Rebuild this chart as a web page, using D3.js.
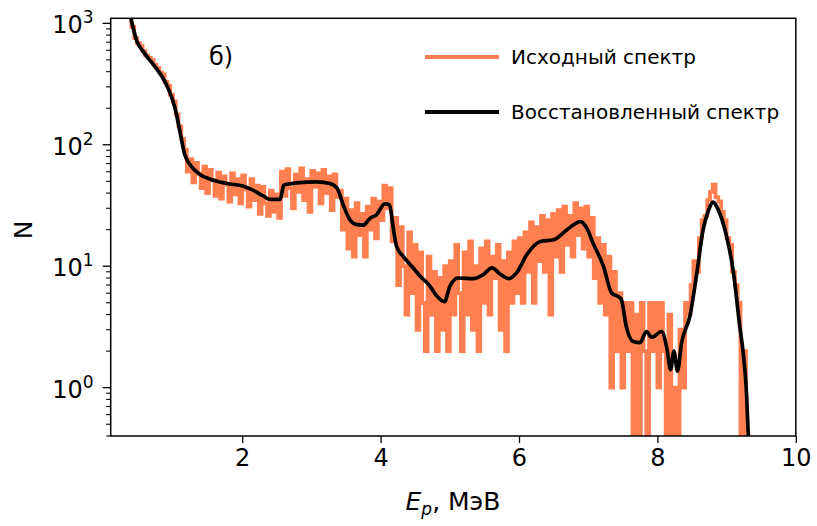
<!DOCTYPE html>
<html>
<head>
<meta charset="utf-8">
<script src="https://cdn.jsdelivr.net/npm/d3@7"></script>
<style>
  html, body { margin: 0; padding: 0; background: #fff; }
  svg { display: block; font-family: "DejaVu Sans", sans-serif; }
</style>
</head>
<body>
<svg id="chart" width="817" height="526"></svg>
<script>
// Measured proton spectrum: bins of 0.04 MeV starting at 0.30 MeV (counts per bin)
const rawStart = 0.30;
const rawStep = 0.04;
const rawCounts = [
  1720, 1390, 1210, 935, 760, 690, 650, 590, 545, 520,
  498, 455, 430, 395, 380, 330, 305, 258, 228, 178,
  142, 112, 91, 60, 76, 49, 71, 58, 44, 66,
  40, 62, 51, 38, 59, 36, 55, 47, 34, 58,
  39, 52, 33, 56, 43, 31, 52, 35, 46, 27,
  45, 33, 26, 42, 28, 39, 25, 60, 38, 63,
  44, 30, 57, 41, 64, 35, 52, 28, 61, 45,
  58, 33, 62, 40, 55, 29, 57, 37, 42, 20,
  36, 14, 29, 12, 33, 18, 27, 12, 31, 20,
  36, 17, 34, 24, 46, 30, 44, 16, 25, 7,
  21, 10, 4, 19, 6, 15, 3, 13, 5, 2,
  12, 4, 9, 2, 8, 3, 10, 2, 11, 4,
  15, 6, 2, 13, 4, 16, 3, 10, 2, 14,
  5, 16, 4, 12, 8, 15, 3, 11, 2, 13,
  5, 16, 6, 17, 5, 19, 9, 23, 5, 21,
  11, 26, 9, 24, 4, 27, 12, 29, 9, 31,
  15, 26, 12, 33, 18, 30, 14, 31, 12, 25,
  8, 17, 5, 15, 4, 12, 1, 9, 2, 6,
  1, 5, 2, 5, 0, 4, 0, 5, 2, 0,
  5, 2, 5, 1, 5, 2, 0, 4, 0, 1,
  0, 3, 1, 5, 4, 7, 11, 9, 17, 24,
  26, 35, 41, 47, 37, 34, 28, 24, 17, 15,
  9, 7, 5, 0, 2, 0, 0
];

// Reconstructed (unfolded) spectrum
const recEnergy = [
  0.33, 0.39, 0.48, 0.57, 0.72, 0.84, 0.93, 1.03, 1.10, 1.17,
  1.25, 1.39, 1.54, 1.78, 2.02, 2.14, 2.31, 2.40, 2.55, 2.58,
  2.60, 2.79, 3.08, 3.27, 3.37, 3.46, 3.56, 3.66, 3.75, 3.85,
  3.94, 4.06, 4.13, 4.18, 4.23, 4.33, 4.45, 4.57, 4.71, 4.79,
  4.93, 4.97, 5.00, 5.12, 5.34, 5.48, 5.61, 5.73, 5.85, 5.97,
  6.11, 6.31, 6.50, 6.69, 6.89, 6.98, 7.07, 7.22, 7.34, 7.44,
  7.48, 7.55, 7.65, 7.75, 7.84, 7.92, 8.06, 8.14, 8.19, 8.24,
  8.29, 8.35, 8.47, 8.57, 8.66, 8.74, 8.80, 8.90, 9.00, 9.10,
  9.19, 9.24, 9.29, 9.31, 9.33
];
const recCounts = [
  1480, 1100, 706, 585, 454, 365, 292, 200, 129, 83,
  68, 57, 52, 48, 45.5, 42.7, 37.7, 35.5, 35.5, 42,
  46.5, 48.5, 49.5, 48, 44, 32, 24, 22, 21.8, 24.9,
  26.5, 32.6, 32, 21.2, 14.6, 12, 10, 8.3, 6.9, 5.9,
  5.1, 6.0, 6.8, 8.0, 7.9, 8.5, 9.7, 8.6, 7.9, 8.9,
  12.4, 16, 16.5, 19.9, 23.3, 20.6, 15.5, 10, 6.0, 5.6,
  5.3, 3.2, 2.4, 2.35, 2.9, 2.6, 2.9, 2.06, 1.41, 2.0,
  1.37, 2.34, 3.9, 8.8, 19.9, 29, 33.7, 27.3, 17.6, 8.8,
  3.2, 1.94, 0.85, 0.45, 0.3
];

const xTicks = [2, 4, 6, 8, 10];
const yTickExponents = [0, 1, 2, 3];
const seriesNames = ["Исходный спектр", "Восстановленный спектр"];
const panelLabel = "б)";

const svg = d3.select("#chart");
const plot = { left: 110.7, right: 795.8, top: 18.3, bottom: 436 };

const x = d3.scaleLinear().domain([0.1, 10]).range([plot.left, plot.right]);
const y = d3.scaleLog().domain([0.4, 1100]).range([plot.bottom, plot.top]);

const orange = "#FF7F50";

svg.append("defs").append("clipPath").attr("id", "plot-clip")
  .append("rect")
  .attr("x", plot.left).attr("y", plot.top)
  .attr("width", plot.right - plot.left).attr("height", plot.bottom - plot.top);

const floorVal = 0.05; // empty bins fall below the visible range
const rawData = rawCounts.map((c, i) => [rawStart + i * rawStep, Math.max(c, floorVal)]);
const recData = recEnergy.map((e, i) => [e, recCounts[i]]);

const lines = svg.append("g").attr("clip-path", "url(#plot-clip)");

lines.append("path")
  .datum(rawData)
  .attr("fill", "none")
  .attr("stroke", orange)
  .attr("stroke-width", 3.8)
  .attr("stroke-linejoin", "miter")
  .attr("d", d3.line().curve(d3.curveStep).x(d => x(d[0])).y(d => y(d[1])));

lines.append("path")
  .datum(recData)
  .attr("fill", "none")
  .attr("stroke", "#000")
  .attr("stroke-width", 3.7)
  .attr("stroke-linejoin", "round")
  .attr("d", d3.line().curve(d3.curveMonotoneX).x(d => x(d[0])).y(d => y(d[1])));

// Frame
svg.append("rect")
  .attr("x", plot.left).attr("y", plot.top)
  .attr("width", plot.right - plot.left).attr("height", plot.bottom - plot.top)
  .attr("fill", "none").attr("stroke", "#000").attr("stroke-width", 1.5);

// X axis
const xAxis = d3.axisBottom(x).tickValues(xTicks).tickSize(7).tickPadding(6)
  .tickFormat(d3.format("d"));
const gx = svg.append("g").attr("transform", `translate(0,${plot.bottom})`).call(xAxis);
gx.select(".domain").remove();
gx.selectAll(".tick line").attr("stroke", "#000").attr("stroke-width", 1.3);
gx.selectAll(".tick text").attr("font-family", "DejaVu Sans").attr("font-size", 24).attr("fill", "#000");

// Y axis: major and minor ticks
const gy = svg.append("g");
const minor = [];
for (let k = -1; k <= 3; k++) {
  for (let m = 2; m <= 9; m++) {
    const v = m * Math.pow(10, k);
    if (v >= 0.4 && v <= 1100) minor.push(v);
  }
}
gy.selectAll("line.minor").data(minor).enter().append("line")
  .attr("x1", plot.left - 4.5).attr("x2", plot.left)
  .attr("y1", d => y(d)).attr("y2", d => y(d))
  .attr("stroke", "#000").attr("stroke-width", 1.1);
gy.selectAll("line.major").data(yTickExponents).enter().append("line")
  .attr("x1", plot.left - 8).attr("x2", plot.left)
  .attr("y1", d => y(Math.pow(10, d))).attr("y2", d => y(Math.pow(10, d)))
  .attr("stroke", "#000").attr("stroke-width", 1.3);
const ylab = gy.selectAll("text.ylab").data(yTickExponents).enter().append("text")
  .attr("x", plot.left - 17)
  .attr("y", d => y(Math.pow(10, d)) + 10)
  .attr("text-anchor", "end")
  .attr("font-size", 24)
  .attr("fill", "#000");
ylab.append("tspan").text("10");
ylab.append("tspan").attr("dy", -10).attr("font-size", 17).text(d => d);

// Axis titles
const xt = svg.append("text")
  .attr("x", 453).attr("y", 510)
  .attr("text-anchor", "middle")
  .attr("font-size", 25)
  .attr("fill", "#000");
xt.append("tspan").attr("font-style", "italic").text("E");
xt.append("tspan").attr("font-style", "italic").attr("font-size", 17).attr("dy", 5).text("p");
xt.append("tspan").attr("dy", -5).text(", МэВ");

svg.append("text")
  .attr("transform", "translate(32,230) rotate(-90)")
  .attr("text-anchor", "middle")
  .attr("font-size", 25)
  .attr("fill", "#000")
  .text("N");

// Panel label
svg.append("text")
  .attr("x", 209).attr("y", 65)
  .attr("font-size", 24)
  .attr("fill", "#000")
  .text(panelLabel);

// Legend
const legend = svg.append("g");
const legendItems = [
  { name: seriesNames[0], color: orange, y: 57 },
  { name: seriesNames[1], color: "#000", y: 112 }
];
legend.selectAll("line").data(legendItems).enter().append("line")
  .attr("x1", 425).attr("x2", 499)
  .attr("y1", d => d.y).attr("y2", d => d.y)
  .attr("stroke", d => d.color).attr("stroke-width", 4);
legend.selectAll("text").data(legendItems).enter().append("text")
  .attr("x", 511).attr("y", d => d.y + 7)
  .attr("font-size", 20)
  .attr("fill", "#000")
  .text(d => d.name);
</script>
</body>
</html>
